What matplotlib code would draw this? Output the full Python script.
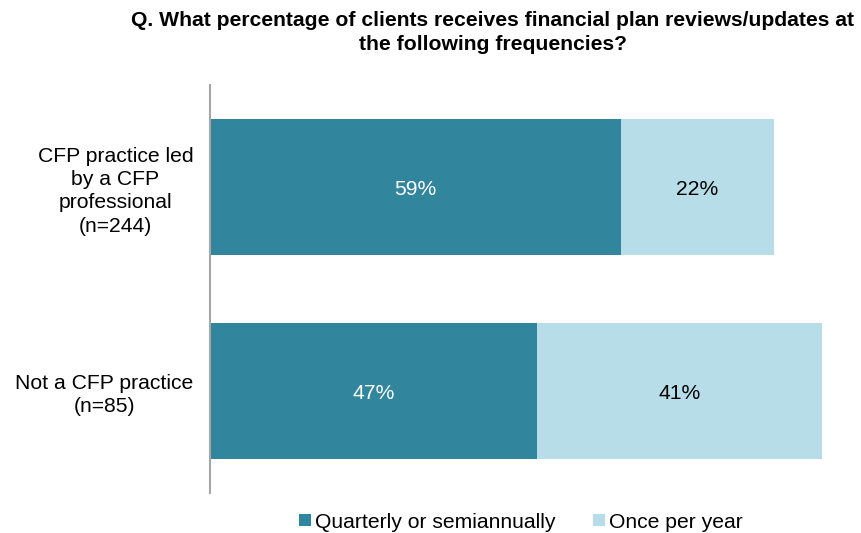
import matplotlib
matplotlib.use("Agg")
import matplotlib.pyplot as plt

categories = ["CFP practice led\nby a CFP\nprofessional\n(n=244)", "Not a CFP practice\n(n=85)"]
series_names = ["Quarterly or semiannually", "Once per year"]
quarterly = [59, 47]
yearly = [22, 41]
colors = ["#31859C", "#B7DEE8"]

plt.rcParams['font.family'] = ['Liberation Sans', 'DejaVu Sans']

fig = plt.figure(figsize=(8.61, 5.33), dpi=100)
W, H = 861, 533
ax = fig.add_axes([210 / W, 1 - 493 / H, 641 / W, 408 / H])

FS = 15.2
ypos = list(range(len(categories)))
b1 = ax.barh(ypos, quarterly, height=0.667, color=colors[0], label=series_names[0])
b2 = ax.barh(ypos, yearly, left=quarterly, height=0.667, color=colors[1], label=series_names[1])

for i in ypos:
    ax.text(quarterly[i] / 2, i + 0.01, f"{quarterly[i]}%", ha="center", va="center",
            color="white", fontsize=FS)
    ax.text(quarterly[i] + yearly[i] / 2, i + 0.01, f"{yearly[i]}%", ha="center", va="center",
            color="black", fontsize=FS)

ax.set_xlim(0, 92.1)
ax.set_ylim(1.5, -0.5)
ax.set_yticks(ypos)
ax.set_yticklabels(categories, fontsize=FS, multialignment="center", linespacing=1.29)
ax.tick_params(axis="y", length=0, pad=12)
ax.set_xticks([])
for s in ["top", "right", "bottom"]:
    ax.spines[s].set_visible(False)
ax.spines["left"].set_color("#A6A6A6")
ax.spines["left"].set_linewidth(1.5)

fig.text(493 / W, 1 - 11 / H,
         "Q. What percentage of clients receives financial plan reviews/updates at\nthe following frequencies?",
         ha="center", va="top", fontsize=FS, fontweight="bold", linespacing=1.33)

fig.legend(handles=[b1, b2], labels=series_names, loc="center", bbox_to_anchor=(521 / W, 1 - 522 / H),
           ncol=2, frameon=False, fontsize=FS, handlelength=0.55, handleheight=0.55,
           handletextpad=0.2, columnspacing=1.8, borderaxespad=0)

fig.savefig("out.png", dpi=100)
